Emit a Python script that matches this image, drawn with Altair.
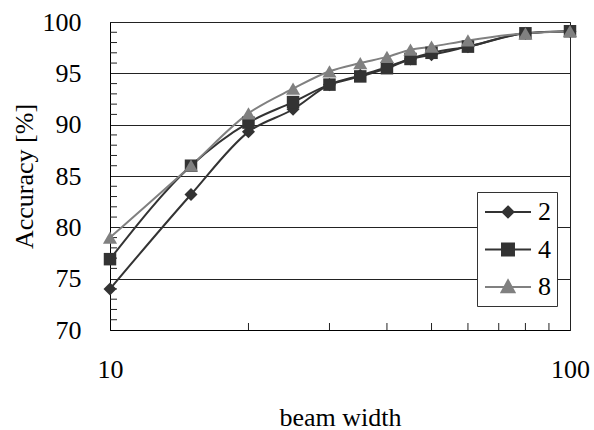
import altair as alt
import pandas as pd

beam_width = [10, 15, 20, 25, 30, 35, 40, 45, 50, 60, 80, 100]
acc_2 = [74.0, 83.2, 89.3, 91.5, 93.9, 94.8, 95.6, 96.4, 96.8, 97.6, 98.9, 99.1]
acc_4 = [76.9, 86.0, 90.2, 92.2, 93.9, 94.7, 95.5, 96.4, 97.0, 97.6, 98.9, 99.1]
acc_8 = [79.0, 86.0, 91.1, 93.5, 95.2, 96.0, 96.6, 97.3, 97.6, 98.2, 98.9, 99.1]
series = ["2", "4", "8"]
y_major = [70, 75, 80, 85, 90, 95, 100]
x_labels = [10, 100]
x_minor = [20, 30, 40, 50, 60, 70, 80, 90]
y_minor = [71, 72, 73, 74, 76, 77, 78, 79, 81, 82, 83, 84, 86, 87, 88, 89,
           91, 92, 93, 94, 96, 97, 98, 99]

colors = ["#333333", "#333333", "#808080"]
shapes = ["diamond", "square", "triangle-up"]
marker_sizes = [170, 156, 200]
legend_paths = [
    "M-1.77,0H1.77M0,-0.42L0.42,0L0,0.42L-0.42,0Z",
    "M-1.77,0H1.77M-0.46,-0.46H0.46V0.46H-0.46Z",
    "M-1.77,0H1.77M0,-0.52L0.5,0.4L-0.5,0.4Z",
]

rows = []
for s, vals in zip(series, [acc_2, acc_4, acc_8]):
    for b, v in zip(beam_width, vals):
        rows.append({"beam": b, "acc": v, "series": s})
df = pd.DataFrame(rows)

FONT = "Liberation Serif, Times New Roman, serif"

x_scale = alt.Scale(type="log", domain=[10, 100], nice=False)
y_scale = alt.Scale(domain=[70, 100], nice=False, zero=False)
color_scale = alt.Scale(domain=series, range=colors)

x_enc = alt.X("beam:Q", scale=x_scale,
              axis=alt.Axis(values=x_labels, format="d", title="beam width",
                            grid=False, ticks=False, labelFontSize=26, labelFlush=False,
                            labelFont=FONT, labelColor="black", labelPadding=26,
                            titleFont=FONT, titleFontSize=26, titleFontWeight="normal",
                            titleColor="black", titleBaseline="alphabetic", titleY=95,
                            domainColor="#000000", domainWidth=1))
y_enc = alt.Y("acc:Q", scale=y_scale,
              axis=alt.Axis(values=y_major, title="Accuracy [%]", grid=True,
                            gridColor="#222222", gridWidth=1, ticks=False,
                            labelFontSize=26, labelFont=FONT, labelColor="black",
                            labelPadding=29, titleFont=FONT, titleFontSize=26,
                            titleFontWeight="normal", titleColor="black",
                            titleBaseline="alphabetic", titleX=-78,
                            domainColor="#000000", domainWidth=1))

legend = alt.Legend(
    title=None, orient="none", legendX=367, legendY=170,
    strokeColor="#333333", fillColor="white", padding=6,
    symbolSize=676, symbolStrokeWidth=2, symbolOffset=11, labelOffset=16,
    symbolOpacity=1,
    labelFontSize=26, labelFont=FONT, labelColor="black", rowPadding=10.5,
)

# invisible layer that only carries the legend (first, so its legend settings win)
legend_layer = alt.Chart(df).mark_point(filled=True, opacity=0).encode(
    x=x_enc,
    y=y_enc,
    color=alt.Color("series:N", scale=color_scale, legend=legend),
    stroke=alt.Stroke("series:N", scale=alt.Scale(domain=series, range=colors), legend=legend),
    shape=alt.Shape("series:N", scale=alt.Scale(domain=series, range=legend_paths), legend=legend),
)

lines = alt.Chart(df).mark_line(interpolate="monotone", strokeWidth=2).encode(
    x=alt.X("beam:Q", scale=x_scale),
    y=alt.Y("acc:Q", scale=y_scale),
    color=alt.Color("series:N", scale=color_scale),
)

point_layers = []
for s, shp, sz in zip(series, shapes, marker_sizes):
    point_layers.append(
        alt.Chart(df).transform_filter(alt.datum.series == s)
        .mark_point(filled=True, size=sz, opacity=1, shape=shp)
        .encode(
            x=alt.X("beam:Q", scale=x_scale),
            y=alt.Y("acc:Q", scale=y_scale),
            color=alt.Color("series:N", scale=color_scale),
        )
    )

ytick_df = pd.DataFrame({"v": y_minor})
yticks = alt.Chart(ytick_df).mark_rule(color="#222222", strokeWidth=1).encode(
    y=alt.Y("v:Q", scale=y_scale), x=alt.value(0), x2=alt.value(7))

xtick_df = pd.DataFrame({"v": x_minor})
xticks = alt.Chart(xtick_df).mark_rule(color="#222222", strokeWidth=1).encode(
    x=alt.X("v:Q", scale=x_scale), y=alt.value(308), y2=alt.value(301))

chart = alt.layer(legend_layer, yticks, xticks, lines, *point_layers).properties(
    width=460, height=308,
    autosize=alt.AutoSizeParams(type="none"),
    padding={"left": 110, "top": 22, "right": 24, "bottom": 100},
    background="white",
).configure_view(stroke="#222222", strokeWidth=1)

chart.save("out.html", embed_options={"renderer": "svg", "actions": False})
